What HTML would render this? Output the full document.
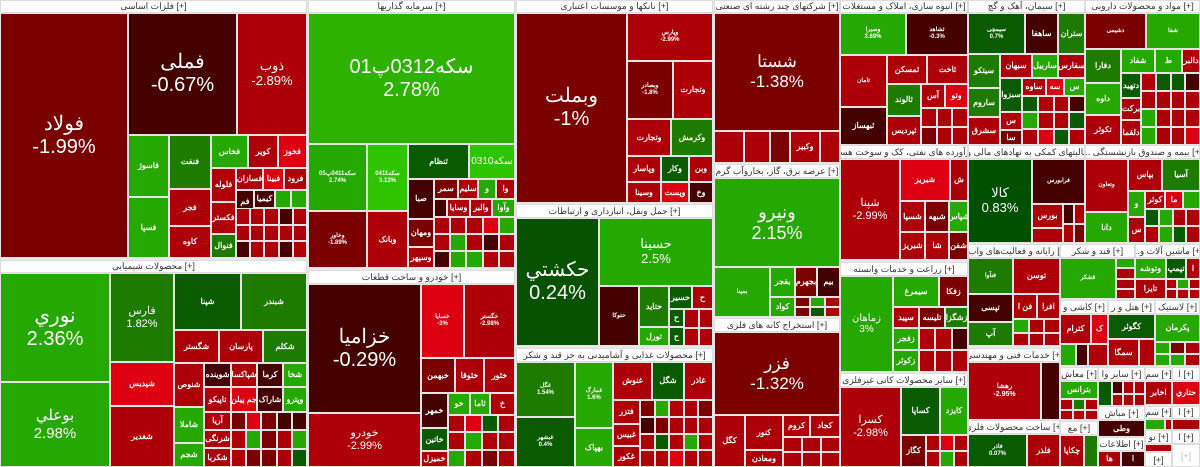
<!DOCTYPE html>
<html><head><meta charset="utf-8">
<style>
*{margin:0;padding:0;box-sizing:border-box}
body{width:1200px;height:467px;overflow:hidden;background:#e8e8e8;position:relative;font-family:"Liberation Sans","Noto Sans CJK SC",sans-serif}
.t,.h,.q{position:absolute}
.t{border:1px solid #e4e4e4;color:#fff;display:flex;align-items:center;justify-content:center;text-align:center;font-size:8px;font-weight:bold;line-height:1.15;overflow:hidden;white-space:nowrap}
.h{background:#fff;border:1px solid #ddd;color:#333;font-size:9px;display:flex;align-items:center;justify-content:center;white-space:nowrap;overflow:hidden}
.q{display:grid;gap:0}
.q i{display:block;border:1px solid #e4e4e4}
.L{font-size:20px;font-weight:normal}
.M{font-size:15px;font-weight:normal}
.S{font-size:11px;font-weight:normal}
.r{background:#ae0008}.d{background:#7b0000}.v{background:#450000}.b{background:#dc0010}
.g{background:#25a800}.m{background:#1d7c00}.k{background:#0a5a00}.l{background:#2fc400}
</style></head><body>
<!-- فلزات اساسی -->
<div class="h" style="left:0;top:0;width:307px;height:13px">فلزات اساسی [+]</div>
<div class="t d L" style="left:0;top:13px;width:128px;height:245px">فولاد<br>-1.99%</div>
<div class="t v L" style="left:128px;top:13px;width:109px;height:122px">فملی<br>-0.67%</div>
<div class="t r S" style="left:237px;top:13px;width:70px;height:122px;font-size:13px">ذوب<br>-2.89%</div>
<div class="t g" style="left:128px;top:135px;width:41px;height:62px">فاسوژ</div>
<div class="t g" style="left:128px;top:197px;width:41px;height:61px">فسپا</div>
<div class="t m" style="left:169px;top:135px;width:42px;height:54px">فنفت</div>
<div class="t r" style="left:169px;top:189px;width:42px;height:37px">فجر</div>
<div class="t r" style="left:169px;top:226px;width:42px;height:32px">کاوه</div>
<div class="t g" style="left:211px;top:135px;width:37px;height:33px">فخاس</div>
<div class="t r" style="left:248px;top:135px;width:30px;height:33px">کویر</div>
<div class="t b" style="left:278px;top:135px;width:29px;height:33px">فخوز</div>
<div class="t r" style="left:211px;top:168px;width:25px;height:34px">فلوله</div>
<div class="t r" style="left:211px;top:202px;width:25px;height:32px">فکستر</div>
<div class="t m" style="left:211px;top:234px;width:25px;height:24px">فنوال</div>
<div class="t r" style="left:236px;top:168px;width:27px;height:22px">فسازان</div>
<div class="t b" style="left:263px;top:168px;width:21px;height:22px">فبینا</div>
<div class="t r" style="left:284px;top:168px;width:23px;height:22px">فرود</div>
<div class="t v" style="left:236px;top:190px;width:18px;height:23px">فم</div>
<div class="t v" style="left:254px;top:190px;width:21px;height:18px">کیمیا</div>
<div class="t g" style="left:275px;top:190px;width:16px;height:18px"></div>
<div class="t g" style="left:291px;top:190px;width:16px;height:18px"></div>
<div class="q" style="left:236px;top:208px;width:71px;height:50px;grid-template-columns:repeat(5,1fr)"><i class="r"></i><i class="r"></i><i class="r"></i><i class="v"></i><i class="r"></i><i class="r"></i><i class="r"></i><i class="r"></i><i class="r"></i><i class="r"></i><i class="v"></i><i class="r"></i><i class="r"></i><i class="v"></i><i class="r"></i></div>
<!-- محصولات شیمیایی -->
<div class="h" style="left:0;top:260px;width:307px;height:13px">محصولات شیمیایی [+]</div>
<div class="t g L" style="left:0;top:273px;width:110px;height:109px">نوري<br>2.36%</div>
<div class="t g M" style="left:0;top:382px;width:110px;height:85px">بوعلي<br>2.98%</div>
<div class="t m S" style="left:110px;top:273px;width:64px;height:89px">فارس<br>1.82%</div>
<div class="t b" style="left:110px;top:362px;width:64px;height:44px">شپدیس</div>
<div class="t r" style="left:110px;top:406px;width:64px;height:61px">شغدیر</div>
<div class="t k" style="left:174px;top:273px;width:67px;height:57px">شپنا</div>
<div class="t m" style="left:241px;top:273px;width:66px;height:57px">شبندر</div>
<div class="t r" style="left:174px;top:330px;width:45px;height:33px">شگستر</div>
<div class="t r" style="left:219px;top:330px;width:44px;height:33px">پارسان</div>
<div class="t m" style="left:263px;top:330px;width:44px;height:33px">شکلم</div>
<div class="t r" style="left:174px;top:363px;width:30px;height:44px">شنوص</div>
<div class="t g" style="left:174px;top:407px;width:30px;height:36px">شاملا</div>
<div class="t g" style="left:174px;top:443px;width:30px;height:24px">شجم</div>
<div class="t v" style="left:204px;top:363px;width:27px;height:24px">شوینده</div>
<div class="t r" style="left:231px;top:363px;width:26px;height:24px">شپاکسا</div>
<div class="t v" style="left:257px;top:363px;width:26px;height:24px">کرما</div>
<div class="t g" style="left:283px;top:363px;width:24px;height:24px">شخا</div>
<div class="t r" style="left:204px;top:387px;width:27px;height:25px">تاپیکو</div>
<div class="t b" style="left:231px;top:387px;width:26px;height:25px">جم پیلن</div>
<div class="t v" style="left:257px;top:387px;width:26px;height:25px">شاراک</div>
<div class="t g" style="left:283px;top:387px;width:24px;height:25px">وپترو</div>
<div class="t r" style="left:204px;top:412px;width:27px;height:18px">آریا</div>
<div class="t r" style="left:204px;top:430px;width:27px;height:18px">شرنگی</div>
<div class="t r" style="left:204px;top:448px;width:27px;height:19px">شکربا</div>
<div class="q" style="left:231px;top:412px;width:76px;height:55px;grid-template-columns:repeat(5,1fr)"><i class="d"></i><i class="b"></i><i class="d"></i><i class="v"></i><i class="v"></i><i class="r"></i><i class="g"></i><i class="d"></i><i class="r"></i><i class="g"></i><i class="r"></i><i class="d"></i><i class="d"></i><i class="r"></i><i class="k"></i></div>
<!-- سرمایه گذاریها -->
<div class="h" style="left:308px;top:0;width:207px;height:13px">سرمایه گذاریها [+]</div>
<div class="t g L" style="left:308px;top:13px;width:207px;height:131px;background:#2db200">سکه0312پ01<br>2.78%</div>
<div class="t g" style="left:308px;top:144px;width:59px;height:67px;font-size:6px">سکه0411پ05<br>2.74%</div>
<div class="t l" style="left:367px;top:144px;width:41px;height:67px;font-size:6px">سکه0411<br>3.13%</div>
<div class="t k" style="left:408px;top:144px;width:61px;height:35px">ثنظام</div>
<div class="t l" style="left:469px;top:144px;width:46px;height:35px;font-size:10px;font-weight:normal">سکه0310</div>
<div class="t d" style="left:308px;top:211px;width:59px;height:57px;font-size:6px">وخاور<br>-1.89%</div>
<div class="t r" style="left:367px;top:211px;width:41px;height:57px">وبانک</div>
<div class="t v" style="left:408px;top:179px;width:26px;height:40px">صبا</div>
<div class="t d" style="left:434px;top:179px;width:24px;height:20px">سمر</div>
<div class="t r" style="left:458px;top:179px;width:20px;height:20px">سلیم</div>
<div class="t g" style="left:478px;top:179px;width:18px;height:20px">و</div>
<div class="t r" style="left:496px;top:179px;width:19px;height:20px">وا</div>
<div class="t d" style="left:408px;top:219px;width:26px;height:28px">ومهان</div>
<div class="t r" style="left:408px;top:247px;width:26px;height:21px">وسپهر</div>
<div class="t v" style="left:434px;top:199px;width:13px;height:18px"></div>
<div class="t r" style="left:447px;top:199px;width:23px;height:18px">وسایا</div>
<div class="t r" style="left:470px;top:199px;width:22px;height:18px">والبر</div>
<div class="t g" style="left:492px;top:199px;width:23px;height:18px">وآوا</div>
<div class="q" style="left:434px;top:217px;width:81px;height:51px;grid-template-columns:repeat(5,1fr)"><i class="r"></i><i class="r"></i><i class="r"></i><i class="b"></i><i class="g"></i><i class="r"></i><i class="g"></i><i class="r"></i><i class="v"></i><i class="r"></i><i class="v"></i><i class="g"></i><i class="g"></i><i class="r"></i><i class="r"></i></div>
<!-- خودرو -->
<div class="h" style="left:308px;top:270px;width:207px;height:14px">خودرو و ساخت قطعات [+]</div>
<div class="t v L" style="left:308px;top:284px;width:113px;height:129px">خزامیا<br>-0.29%</div>
<div class="t r S" style="left:308px;top:413px;width:113px;height:54px">خودرو<br>-2.99%</div>
<div class="t b" style="left:421px;top:284px;width:43px;height:74px;font-size:6px">خسایا<br>-3%</div>
<div class="t r" style="left:464px;top:284px;width:51px;height:74px;font-size:6px">خگستر<br>-2.98%</div>
<div class="t d" style="left:421px;top:358px;width:34px;height:35px">خبهمن</div>
<div class="t r" style="left:455px;top:358px;width:29px;height:35px">خئوقا</div>
<div class="t r" style="left:484px;top:358px;width:31px;height:35px">خئور</div>
<div class="t v" style="left:421px;top:393px;width:27px;height:35px">خمهر</div>
<div class="t g" style="left:448px;top:393px;width:22px;height:22px">خو</div>
<div class="t g" style="left:470px;top:393px;width:20px;height:22px">ثاما</div>
<div class="t r" style="left:490px;top:393px;width:25px;height:22px">خ</div>
<div class="t k" style="left:421px;top:428px;width:27px;height:23px">خاتین</div>
<div class="t r" style="left:421px;top:451px;width:27px;height:16px">خمیزل</div>
<div class="q" style="left:448px;top:415px;width:67px;height:52px;grid-template-columns:repeat(4,1fr)"><i class="r"></i><i class="b"></i><i class="k"></i><i class="r"></i><i class="r"></i><i class="g"></i><i class="r"></i><i class="r"></i><i class="g"></i><i class="r"></i><i class="d"></i><i class="r"></i></div>
<!-- بانکها -->
<div class="h" style="left:516px;top:0;width:197px;height:13px">بانکها و موسسات اعتباری [+]</div>
<div class="t d L" style="left:516px;top:13px;width:111px;height:190px">وبملت<br>-1%</div>
<div class="t r" style="left:627px;top:13px;width:86px;height:48px;font-size:6px">وپارس<br>-2.99%</div>
<div class="t d" style="left:627px;top:61px;width:46px;height:58px;font-size:6px">وبصادر<br>-1.8%</div>
<div class="t r" style="left:673px;top:61px;width:40px;height:58px">وتجارت</div>
<div class="t r" style="left:627px;top:119px;width:44px;height:37px">وتجارت</div>
<div class="t m" style="left:671px;top:119px;width:42px;height:37px">وکرمش</div>
<div class="t r" style="left:627px;top:156px;width:34px;height:26px">وپاسار</div>
<div class="t k" style="left:661px;top:156px;width:28px;height:26px">وکار</div>
<div class="t r" style="left:689px;top:156px;width:24px;height:26px">وبن</div>
<div class="t r" style="left:627px;top:182px;width:34px;height:21px">وسینا</div>
<div class="t b" style="left:661px;top:182px;width:28px;height:21px">وپست</div>
<div class="t v" style="left:689px;top:182px;width:24px;height:21px">وخ</div>
<!-- حمل ونقل -->
<div class="h" style="left:516px;top:204px;width:197px;height:14px">حمل ونقل، انبارداری و ارتباطات [+]</div>
<div class="t k L" style="left:516px;top:218px;width:83px;height:128px;background:#075200">حکشتي<br>0.24%</div>
<div class="t g M" style="left:599px;top:218px;width:114px;height:68px;font-size:13px">حسینا<br>2.5%</div>
<div class="t v" style="left:599px;top:286px;width:40px;height:60px;font-size:6px">حتوکا</div>
<div class="t m" style="left:639px;top:286px;width:30px;height:41px">حتاید</div>
<div class="t g" style="left:639px;top:327px;width:30px;height:19px">تورل</div>
<div class="t k" style="left:669px;top:286px;width:23px;height:23px">حسیر</div>
<div class="t r" style="left:692px;top:286px;width:21px;height:23px">ح</div>
<div class="t k" style="left:669px;top:309px;width:15px;height:18px">ح</div>
<div class="t k" style="left:669px;top:327px;width:15px;height:19px">ح</div>
<div class="q" style="left:684px;top:309px;width:29px;height:37px;grid-template-columns:repeat(2,1fr)"><i class="r"></i><i class="r"></i><i class="r"></i><i class="r"></i></div>
<!-- غذایی -->
<div class="h" style="left:516px;top:348px;width:197px;height:14px">محصولات غذایی و آشامیدنی به جز قند و شکر [+]</div>
<div class="t m" style="left:516px;top:362px;width:59px;height:55px;font-size:6px">غگل<br>1.54%</div>
<div class="t k" style="left:516px;top:417px;width:59px;height:50px;font-size:6px">غبشهر<br>0.4%</div>
<div class="t g" style="left:575px;top:362px;width:38px;height:66px;font-size:6px">غمارگ<br>1.6%</div>
<div class="t g" style="left:575px;top:428px;width:38px;height:39px">بهپاک</div>
<div class="t r" style="left:613px;top:362px;width:39px;height:38px">غنوش</div>
<div class="t k" style="left:652px;top:362px;width:32px;height:38px">شگل</div>
<div class="t r" style="left:684px;top:362px;width:29px;height:38px">غاذر</div>
<div class="t r" style="left:613px;top:400px;width:27px;height:24px">فتزر</div>
<div class="t r" style="left:613px;top:424px;width:27px;height:22px">غبیس</div>
<div class="t r" style="left:613px;top:446px;width:27px;height:21px">غکور</div>
<div class="q" style="left:640px;top:400px;width:73px;height:67px;grid-template-columns:repeat(5,1fr)"><i class="d"></i><i class="g"></i><i class="r"></i><i class="r"></i><i class="d"></i><i class="v"></i><i class="d"></i><i class="r"></i><i class="r"></i><i class="r"></i><i class="r"></i><i class="k"></i><i class="r"></i><i class="g"></i><i class="r"></i><i class="r"></i><i class="r"></i><i class="b"></i><i class="r"></i><i class="r"></i></div>
<!-- چند رشته ای -->
<div class="h" style="left:714px;top:0;width:126px;height:13px">شرکتهای چند رشته ای صنعتی [+]</div>
<div class="t d L" style="left:714px;top:13px;width:126px;height:118px;font-size:17px">شستا<br>-1.38%</div>
<div class="t r" style="left:714px;top:131px;width:30px;height:32px"></div>
<div class="t r" style="left:744px;top:131px;width:26px;height:32px"></div>
<div class="t d" style="left:770px;top:131px;width:20px;height:32px"></div>
<div class="t r" style="left:790px;top:131px;width:30px;height:32px">وکبیر</div>
<div class="t r" style="left:820px;top:131px;width:20px;height:32px"></div>
<!-- برق -->
<div class="h" style="left:714px;top:164px;width:126px;height:14px">عرضه برق، گاز، بخاروآب گرم [+]</div>
<div class="t g L" style="left:714px;top:178px;width:126px;height:89px;font-size:18px">ونیرو<br>2.15%</div>
<div class="t g" style="left:714px;top:267px;width:56px;height:50px;font-size:6px">بمپنا</div>
<div class="t g" style="left:770px;top:267px;width:25px;height:30px">بفجر</div>
<div class="t g" style="left:770px;top:297px;width:25px;height:20px">کواد</div>
<div class="t d" style="left:795px;top:267px;width:22px;height:30px">بجهرم</div>
<div class="t v" style="left:817px;top:267px;width:23px;height:30px">بیم</div>
<div class="q" style="left:795px;top:297px;width:45px;height:20px;grid-template-columns:repeat(3,1fr)"><i class="d"></i><i class="g"></i><i class="r"></i><i class="d"></i><i class="k"></i><i class="r"></i></div>
<!-- استخراج -->
<div class="h" style="left:714px;top:318px;width:126px;height:14px">استخراج کانه های فلزی [+]</div>
<div class="t d L" style="left:714px;top:332px;width:126px;height:83px;font-size:17px">فزر<br>-1.32%</div>
<div class="t r" style="left:714px;top:415px;width:31px;height:52px">کگل</div>
<div class="t r" style="left:745px;top:415px;width:38px;height:35px">کنور</div>
<div class="t r" style="left:783px;top:415px;width:27px;height:22px">کروم</div>
<div class="t r" style="left:810px;top:415px;width:30px;height:22px">کجاد</div>
<div class="t r" style="left:745px;top:450px;width:38px;height:17px">ومعادن</div>
<div class="q" style="left:783px;top:437px;width:57px;height:30px;grid-template-columns:repeat(3,1fr)"><i class="r"></i><i class="r"></i><i class="r"></i><i class="r"></i><i class="r"></i><i class="r"></i></div>
<!-- انبوه سازی -->
<div class="h" style="left:840px;top:0;width:128px;height:13px">انبوه سازی، املاک و مستغلات [+]</div>
<div class="t g" style="left:840px;top:13px;width:66px;height:42px;font-size:6px">وسیرا<br>2.69%</div>
<div class="t v" style="left:906px;top:13px;width:62px;height:42px;font-size:6px">ثشاهد<br>-0.3%</div>
<div class="t r" style="left:840px;top:55px;width:47px;height:52px;font-size:6px">ثامان</div>
<div class="t r" style="left:887px;top:55px;width:40px;height:29px">ثمسکن</div>
<div class="t r" style="left:927px;top:55px;width:41px;height:29px">ثاخت</div>
<div class="t m" style="left:887px;top:84px;width:34px;height:32px">ثالوند</div>
<div class="t r" style="left:921px;top:84px;width:24px;height:24px">آس</div>
<div class="t b" style="left:945px;top:84px;width:23px;height:24px">وتو</div>
<div class="t v" style="left:840px;top:107px;width:47px;height:38px">ثبهساز</div>
<div class="t r" style="left:887px;top:116px;width:34px;height:29px">ثپردیس</div>
<div class="q" style="left:921px;top:108px;width:47px;height:37px;grid-template-columns:repeat(3,1fr)"><i class="r"></i><i class="r"></i><i class="r"></i><i class="d"></i><i class="r"></i><i class="r"></i></div>
<!-- فرآورده نفتی -->
<div class="h" style="left:840px;top:145px;width:128px;height:14px">فرآورده های نفتی، کک و سوخت هسته ای [+]</div>
<div class="t r S" style="left:840px;top:159px;width:60px;height:101px">شپنا<br>-2.99%</div>
<div class="t b" style="left:900px;top:159px;width:50px;height:42px">شبریز</div>
<div class="t r" style="left:950px;top:159px;width:18px;height:42px">ش</div>
<div class="t r" style="left:900px;top:201px;width:25px;height:31px">شسپا</div>
<div class="t d" style="left:925px;top:201px;width:24px;height:31px">شبهه</div>
<div class="t g" style="left:949px;top:201px;width:19px;height:31px">شپاس</div>
<div class="t r" style="left:900px;top:232px;width:25px;height:28px">شبریز</div>
<div class="t r" style="left:925px;top:232px;width:24px;height:28px">شا</div>
<div class="t d" style="left:949px;top:232px;width:19px;height:28px">شفن</div>
<!-- زراعت -->
<div class="h" style="left:840px;top:262px;width:128px;height:14px">زراعت و خدمات وابسته [+]</div>
<div class="t g" style="left:840px;top:276px;width:53px;height:96px;font-size:10px;font-weight:normal">زماهان<br>3%</div>
<div class="t g" style="left:893px;top:276px;width:46px;height:31px">سیمرغ</div>
<div class="t d" style="left:939px;top:276px;width:29px;height:31px">زفکا</div>
<div class="t r" style="left:893px;top:307px;width:26px;height:21px">سپید</div>
<div class="t d" style="left:919px;top:307px;width:26px;height:21px">تلیسه</div>
<div class="t m" style="left:945px;top:307px;width:23px;height:21px">زشگزا</div>
<div class="t g" style="left:893px;top:328px;width:26px;height:22px">زفجر</div>
<div class="t g" style="left:893px;top:350px;width:26px;height:22px">زکوثر</div>
<div class="q" style="left:919px;top:328px;width:49px;height:44px;grid-template-columns:repeat(3,1fr)"><i class="r"></i><i class="r"></i><i class="v"></i><i class="r"></i><i class="r"></i><i class="r"></i></div>
<!-- کانی غیرفلزی -->
<div class="h" style="left:840px;top:373px;width:128px;height:14px">سایر محصولات کانی غیرفلزی [+]</div>
<div class="t r S" style="left:840px;top:387px;width:61px;height:80px">کسرا<br>-2.98%</div>
<div class="t k" style="left:901px;top:387px;width:39px;height:48px">کساپا</div>
<div class="t g" style="left:940px;top:387px;width:28px;height:48px">کایزد</div>
<div class="t d" style="left:901px;top:435px;width:25px;height:32px">کگاز</div>
<div class="q" style="left:926px;top:435px;width:42px;height:32px;grid-template-columns:repeat(3,1fr)"><i class="r"></i><i class="b"></i><i class="r"></i><i class="r"></i><i class="g"></i><i class="r"></i></div>
<!-- سیمان -->
<div class="h" style="left:968px;top:0;width:117px;height:13px">سیمان، آهک و گچ [+]</div>
<div class="t k" style="left:968px;top:13px;width:57px;height:41px;font-size:6px">سیمچی<br>0.7%</div>
<div class="t v" style="left:1025px;top:13px;width:33px;height:41px">ساهفا</div>
<div class="t m" style="left:1058px;top:13px;width:27px;height:41px">ستران</div>
<div class="t m" style="left:968px;top:54px;width:32px;height:34px">سیتکو</div>
<div class="t r" style="left:1000px;top:54px;width:32px;height:24px">سبهان</div>
<div class="t g" style="left:1032px;top:54px;width:26px;height:24px">ساربیل</div>
<div class="t r" style="left:1058px;top:54px;width:27px;height:24px">سفارس</div>
<div class="t m" style="left:968px;top:88px;width:32px;height:29px">ساروم</div>
<div class="t r" style="left:968px;top:117px;width:32px;height:28px">سشرق</div>
<div class="t k" style="left:1000px;top:78px;width:22px;height:34px">سبزوا</div>
<div class="t r" style="left:1022px;top:78px;width:24px;height:18px">ساوه</div>
<div class="t b" style="left:1046px;top:78px;width:18px;height:18px">سه</div>
<div class="t g" style="left:1064px;top:78px;width:21px;height:18px">س</div>
<div class="t r" style="left:1000px;top:112px;width:22px;height:18px">س</div>
<div class="t d" style="left:1000px;top:130px;width:22px;height:15px">سا</div>
<div class="q" style="left:1022px;top:96px;width:63px;height:49px;grid-template-columns:repeat(4,1fr)"><i class="k"></i><i class="r"></i><i class="r"></i><i class="v"></i><i class="g"></i><i class="r"></i><i class="r"></i><i class="k"></i><i class="r"></i><i class="b"></i><i class="k"></i><i class="r"></i></div>
<!-- دارویی -->
<div class="h" style="left:1085px;top:0;width:115px;height:13px">مواد و محصولات دارویی [+]</div>
<div class="t d" style="left:1085px;top:13px;width:61px;height:36px;font-size:6px">دشیمی</div>
<div class="t g" style="left:1146px;top:13px;width:54px;height:36px;font-size:6px">شفا</div>
<div class="t m" style="left:1085px;top:49px;width:36px;height:34px">دفارا</div>
<div class="t g" style="left:1121px;top:49px;width:34px;height:24px">شفاد</div>
<div class="t g" style="left:1155px;top:49px;width:27px;height:24px">ط</div>
<div class="t r" style="left:1182px;top:49px;width:18px;height:24px">دالبر</div>
<div class="t g" style="left:1085px;top:83px;width:36px;height:32px">داوه</div>
<div class="t r" style="left:1085px;top:115px;width:36px;height:30px">تکوثر</div>
<div class="t k" style="left:1121px;top:73px;width:20px;height:25px">دتهید</div>
<div class="t r" style="left:1121px;top:98px;width:20px;height:22px">برکت</div>
<div class="t r" style="left:1121px;top:120px;width:20px;height:25px">دلقما</div>
<div class="q" style="left:1141px;top:73px;width:59px;height:72px;grid-template-columns:repeat(4,1fr)"><i class="r"></i><i class="k"></i><i class="k"></i><i class="v"></i><i class="r"></i><i class="r"></i><i class="r"></i><i class="r"></i><i class="g"></i><i class="r"></i><i class="r"></i><i class="r"></i><i class="g"></i><i class="r"></i><i class="r"></i><i class="b"></i></div>
<!-- فعالیتهای کمکی -->
<div class="h" style="left:968px;top:145px;width:117px;height:14px">فعالیتهای کمکی به نهادهای مالی واسط [+]</div>
<div class="t k M" style="left:968px;top:159px;width:64px;height:84px;font-size:13px;background:#005000">کالا<br>0.83%</div>
<div class="t v" style="left:1032px;top:159px;width:53px;height:45px;font-size:6px">فرابورس</div>
<div class="t r" style="left:1032px;top:204px;width:31px;height:24px">بورس</div>
<div class="t r" style="left:1032px;top:228px;width:31px;height:15px"></div>
<div class="q" style="left:1063px;top:204px;width:22px;height:39px;grid-template-columns:repeat(2,1fr)"><i class="v"></i><i class="r"></i><i class="r"></i><i class="d"></i></div>
<!-- بیمه -->
<div class="h" style="left:1085px;top:145px;width:115px;height:14px">... بیمه و صندوق بازنشستگی [+]</div>
<div class="t r" style="left:1085px;top:159px;width:43px;height:53px;font-size:6px">وتعاون</div>
<div class="t r" style="left:1128px;top:159px;width:34px;height:32px">بپاس</div>
<div class="t m" style="left:1162px;top:159px;width:38px;height:32px">آسیا</div>
<div class="t g" style="left:1085px;top:212px;width:43px;height:31px">دانا</div>
<div class="t g" style="left:1128px;top:191px;width:17px;height:26px">و</div>
<div class="t r" style="left:1145px;top:191px;width:20px;height:18px">کوثر</div>
<div class="t b" style="left:1165px;top:191px;width:18px;height:18px">ما</div>
<div class="t g" style="left:1183px;top:191px;width:17px;height:18px"></div>
<div class="t r" style="left:1128px;top:217px;width:17px;height:26px">س</div>
<div class="q" style="left:1145px;top:209px;width:55px;height:34px;grid-template-columns:repeat(4,1fr)"><i class="k"></i><i class="g"></i><i class="r"></i><i class="r"></i><i class="r"></i><i class="g"></i><i class="k"></i><i class="r"></i></div>
<!-- رایانه -->
<div class="h" style="left:968px;top:244px;width:92px;height:14px">...رایانه و فعالیت‌های واب [+]</div>
<div class="t m" style="left:968px;top:258px;width:45px;height:36px;font-size:6px">فنآوا</div>
<div class="t r" style="left:1013px;top:258px;width:47px;height:36px">توسن</div>
<div class="t v" style="left:968px;top:294px;width:45px;height:28px">تپسی</div>
<div class="t m" style="left:968px;top:322px;width:45px;height:24px">آپ</div>
<div class="t r" style="left:1013px;top:294px;width:24px;height:25px">فن ا</div>
<div class="t r" style="left:1037px;top:294px;width:23px;height:25px">افرا</div>
<div class="q" style="left:1013px;top:319px;width:47px;height:27px;grid-template-columns:repeat(3,1fr)"><i class="g"></i><i class="r"></i><i class="r"></i><i class="r"></i><i class="r"></i><i class="r"></i></div>
<!-- خدمات فنی -->
<div class="h" style="left:968px;top:348px;width:92px;height:14px">خدمات فنی و مهندسی [+]</div>
<div class="t r" style="left:968px;top:362px;width:73px;height:58px;font-size:7px">رهشا<br>-2.95%</div>
<div class="t v" style="left:1041px;top:362px;width:19px;height:58px"></div>
<div class="h" style="left:968px;top:420px;width:92px;height:14px">ساخت محصولات فلزی [+]</div>
<div class="t k" style="left:968px;top:434px;width:59px;height:33px;font-size:6px">فاذر<br>0.07%</div>
<div class="t r" style="left:1027px;top:434px;width:33px;height:33px">فلذر</div>
<!-- قند -->
<div class="h" style="left:1060px;top:244px;width:75px;height:14px">قند و شکر [+]</div>
<div class="t g" style="left:1060px;top:258px;width:56px;height:41px;font-size:6px">قشکر</div>
<div class="q" style="left:1116px;top:258px;width:19px;height:41px;grid-template-columns:1fr"><i class="g"></i><i class="r"></i><i class="r"></i><i class="r"></i></div>
<div class="h" style="left:1135px;top:244px;width:65px;height:14px">...ماشین آلات و [+]</div>
<div class="t g" style="left:1135px;top:258px;width:31px;height:21px">وتوشه</div>
<div class="t k" style="left:1166px;top:258px;width:20px;height:21px">تپمپ</div>
<div class="t r" style="left:1186px;top:258px;width:14px;height:21px">ا</div>
<div class="t r" style="left:1135px;top:279px;width:31px;height:20px">تایرا</div>
<div class="q" style="left:1166px;top:279px;width:34px;height:20px;grid-template-columns:repeat(3,1fr)"><i class="r"></i><i class="g"></i><i class="r"></i><i class="r"></i><i class="r"></i><i class="r"></i></div>
<!-- کاشی / هتل / لاستیک -->
<div class="h" style="left:1060px;top:300px;width:48px;height:14px">کاشی و [+]</div>
<div class="t r" style="left:1060px;top:314px;width:31px;height:30px">کترام</div>
<div class="t b" style="left:1091px;top:314px;width:17px;height:30px">ک</div>
<div class="t g" style="left:1060px;top:344px;width:16px;height:22px"></div>
<div class="t v" style="left:1076px;top:344px;width:12px;height:22px"></div>
<div class="t r" style="left:1088px;top:344px;width:20px;height:22px"></div>
<div class="h" style="left:1108px;top:300px;width:47px;height:14px">هتل و ر [+]</div>
<div class="t k" style="left:1108px;top:314px;width:47px;height:25px">کگوثر</div>
<div class="t r" style="left:1108px;top:339px;width:31px;height:27px">سمگا</div>
<div class="t r" style="left:1139px;top:339px;width:16px;height:27px"></div>
<div class="h" style="left:1155px;top:300px;width:45px;height:14px">لاستیک [+]</div>
<div class="t g" style="left:1155px;top:314px;width:45px;height:28px">پکرمان</div>
<div class="q" style="left:1155px;top:342px;width:45px;height:24px;grid-template-columns:repeat(3,1fr)"><i class="g"></i><i class="d"></i><i class="r"></i><i class="g"></i><i class="g"></i><i class="r"></i></div>
<!-- row 3 -->
<div class="h" style="left:1060px;top:367px;width:38px;height:14px">معاش [+]</div>
<div class="t g" style="left:1060px;top:381px;width:38px;height:18px">بترانس</div>
<div class="q" style="left:1060px;top:399px;width:38px;height:21px;grid-template-columns:repeat(3,1fr)"><i class="r"></i><i class="m"></i><i class="r"></i><i class="r"></i><i class="r"></i><i class="r"></i></div>
<div class="h" style="left:1098px;top:367px;width:47px;height:14px">سایر وا [+]</div>
<div class="t k" style="left:1098px;top:381px;width:14px;height:25px"></div>
<div class="q" style="left:1112px;top:381px;width:33px;height:25px;grid-template-columns:repeat(3,1fr)"><i class="v"></i><i class="r"></i><i class="r"></i><i class="r"></i><i class="r"></i><i class="r"></i></div>
<div class="h" style="left:1145px;top:367px;width:27px;height:14px">سم [+]</div>
<div class="t r" style="left:1145px;top:381px;width:27px;height:24px">اخابر</div>
<div class="h" style="left:1172px;top:367px;width:28px;height:14px">ا [+]</div>
<div class="t b" style="left:1172px;top:381px;width:28px;height:24px">حتاري</div>
<div class="h" style="left:1098px;top:406px;width:47px;height:14px">مباش [+]</div>
<div class="t v" style="left:1098px;top:420px;width:47px;height:17px">وطی</div>
<div class="h" style="left:1145px;top:406px;width:27px;height:13px">سم [+]</div>
<div class="t g" style="left:1145px;top:419px;width:20px;height:11px"></div>
<div class="t r" style="left:1165px;top:419px;width:7px;height:11px"></div>
<div class="h" style="left:1172px;top:406px;width:28px;height:13px">ا [+]</div>
<div class="t r" style="left:1172px;top:419px;width:28px;height:11px"></div>
<div class="h" style="left:1060px;top:421px;width:38px;height:14px">مع [+]</div>
<div class="t r" style="left:1060px;top:435px;width:24px;height:32px">چکاپا</div>
<div class="t m" style="left:1084px;top:435px;width:14px;height:32px"></div>
<div class="h" style="left:1098px;top:437px;width:47px;height:14px">اطلاعات [+]</div>
<div class="t r" style="left:1098px;top:451px;width:23px;height:16px">ها</div>
<div class="t v" style="left:1121px;top:451px;width:24px;height:16px">ا</div>
<div class="h" style="left:1145px;top:430px;width:27px;height:14px">نو [+]</div>
<div class="t r" style="left:1145px;top:444px;width:27px;height:8px"></div>
<div class="h" style="left:1145px;top:452px;width:27px;height:15px">[+]</div>
<div class="h" style="left:1172px;top:430px;width:28px;height:14px">ا [+]</div>
<div class="h" style="left:1172px;top:444px;width:28px;height:23px;color:#bbb">[+]</div>
</body></html>
